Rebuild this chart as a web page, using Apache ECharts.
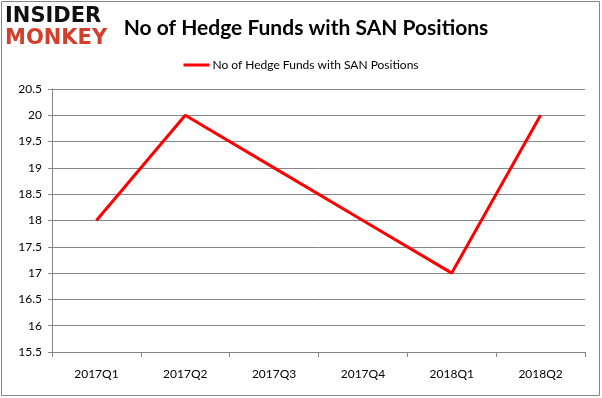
<!DOCTYPE html>
<html>
<head>
<meta charset="utf-8">
<script src="https://cdn.jsdelivr.net/npm/echarts@6/dist/echarts.min.js"></script>
<style>
  html, body { margin: 0; padding: 0; background: #fff; }
  #chart { width: 602px; height: 398px; }
</style>
</head>
<body>
<div id="chart"></div>
<script>
// data
var quarters = ['2017Q1', '2017Q2', '2017Q3', '2017Q4', '2018Q1', '2018Q2'];
var fundCounts = [18, 20, 19, 18, 17, 20];
var seriesName = 'No of Hedge Funds with SAN Positions';

var myChart = echarts.init(document.getElementById('chart'));
var options = {
    backgroundColor: '#fff',
    animation: false,
    title: {
        text: 'No of Hedge Funds with SAN Positions',
        left: 301,
        textAlign: 'center',
        top: 13,
        textStyle: {
            fontFamily: 'Lato',
            fontWeight: 'bold',
            fontSize: 21,
            color: '#000'
        }
    },
    legend: {
        data: [seriesName],
        top: 54,
        left: 'center',
        itemWidth: 26,
        itemHeight: 3,
        itemGap: 4,
        icon: 'rect',
        textStyle: {
            fontFamily: 'Lato',
            fontSize: 12,
            color: '#000',
            padding: [0, 0, 0, -2]
        }
    },
    //logo drawn as text
    graphic: [
        {
            type: 'rect',
            shape: { x: 1.5, y: 1.5, width: 598, height: 394 },
            style: { fill: null, stroke: '#868686', lineWidth: 1 },
            silent: true
        },
        {
            type: 'text',
            left: 5,
            top: 6,
            style: {
                text: 'INSIDER',
                font: '900 21px "DejaVu Sans"',
                fill: '#111'
            }
        },
        {
            type: 'text',
            left: 5,
            top: 28,
            style: {
                text: 'MONKEY',
                font: '900 21px "DejaVu Sans"',
                fill: '#d33f2a'
            }
        }
    ],
    grid: {
        left: 52,
        right: 17,
        top: 89,
        bottom: 46
    },
    xAxis: {
        type: 'category',
        data: quarters,
        boundaryGap: true,
        axisLine: { lineStyle: { color: '#868686', width: 1 } },
        axisTick: { show: true, length: 5, lineStyle: { color: '#868686' } },
        axisLabel: {
            margin: 16,
            fontFamily: 'Lato',
            fontSize: 12,
            color: '#000'
        }
    },
    yAxis: {
        type: 'value',
        min: 15.5,
        max: 20.5,
        interval: 0.5,
        axisLine: { show: true, lineStyle: { color: '#868686', width: 1 } },
        axisTick: { show: true, length: 4, inside: false, lineStyle: { color: '#868686' } },
        splitLine: { lineStyle: { color: '#868686', width: 1 } },
        axisLabel: {
            margin: 10,
            fontFamily: 'Lato',
            fontSize: 12,
            color: '#000'
        }
    },
    series: [{
        name: seriesName,
        type: 'line',
        data: fundCounts,
        symbol: 'none',
        color: '#ff0000',
        lineStyle: { color: '#ff0000', width: 3 }
    }]
};
myChart.setOption(options, true);
</script>
</body>
</html>
